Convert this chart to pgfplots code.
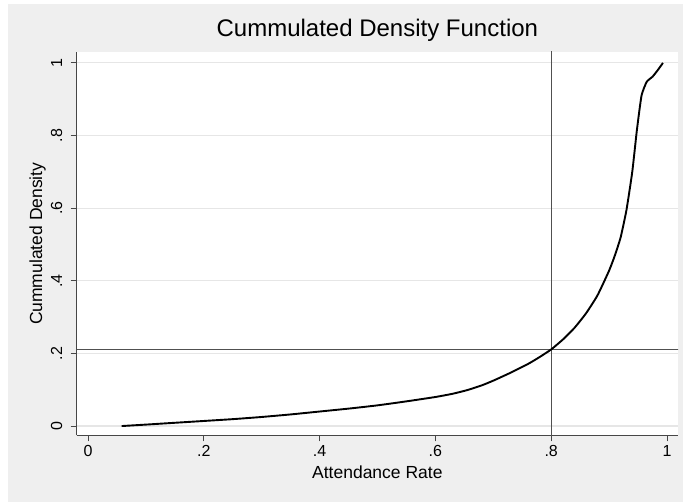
\documentclass[border=0pt]{standalone}
\usepackage{fontspec}
\setmainfont{Liberation Sans}
\usepackage{pgfplots}
\pgfplotsset{compat=1.18}
\definecolor{bggray}{RGB}{239,239,239}
\definecolor{gridgray}{RGB}{230,230,230}
\definecolor{axgray}{RGB}{70,70,70}
\definecolor{refgray}{RGB}{80,80,80}
\begin{document}
\begin{tikzpicture}
% page and graph region
\fill[white] (0pt,0pt) rectangle (683pt,502pt);
\fill[bggray] (8pt,0pt) rectangle (683pt,498pt);
\begin{axis}[
  at={(76.7pt,66.5pt)}, anchor=south west,
  scale only axis, width=601.3pt, height=383.5pt,
  xmin=-0.0195, xmax=1.019, ymin=-0.026, ymax=1.030,
  axis background/.style={fill=white},
  axis lines*=left,
  axis line style={axgray, line width=1.1pt},
  tick align=outside,
  major tick length=6pt,
  tick style={axgray, line width=0.9pt},
  xtick={0,0.2,0.4,0.6,0.8,1},
  xticklabels={0,.2,.4,.6,.8,1},
  ytick={0,0.2,0.4,0.6,0.8,1},
  yticklabels={0,.2,.4,.6,.8,1},
  /pgf/number format/assume math mode=true,
  ticklabel style={font=\fontsize{16}{19}\selectfont},
  xticklabel style={anchor=north, inner sep=0pt, outer sep=3.5pt},
  yticklabel style={rotate=90, anchor=south, inner sep=0pt, outer sep=8.5pt},
  ymajorgrids, grid style={gridgray, line width=1.2pt},
  title={Cummulated Density Function},
  title style={font=\fontsize{24}{28}\selectfont, at={(axis description cs:0.5,1)}, anchor=base, inner sep=0pt, yshift=9pt},
  xlabel={Attendance Rate},
  xlabel style={font=\fontsize{17.5}{20}\selectfont, at={(axis description cs:0.5,-0.11343)}, anchor=base, inner sep=0pt},
  ylabel={Cummulated Density},
  ylabel style={font=\fontsize{17.5}{20}\selectfont, at={(axis description cs:-0.05737,0.5)}, anchor=base, inner sep=0pt},
  clip=true,
]
% reference lines
\addplot[refgray, line width=1.4pt] coordinates {(0.8,-0.1) (0.8,1.1)};
\addplot[refgray, line width=1.4pt] coordinates {(-0.1,0.21) (1.1,0.21)};
% empirical cumulative distribution
\addplot[black, line width=1.9pt, smooth, tension=0.3] coordinates {
(0.058,0.000)
(0.10,0.004)
(0.15,0.009)
(0.20,0.014)
(0.25,0.019)
(0.30,0.025)
(0.35,0.032)
(0.40,0.040)
(0.45,0.048)
(0.50,0.057)
(0.55,0.068)
(0.60,0.080)
(0.63,0.089)
(0.655,0.099)
(0.68,0.112)
(0.70,0.125)
(0.73,0.147)
(0.76,0.171)
(0.78,0.190)
(0.80,0.211)
(0.82,0.238)
(0.84,0.270)
(0.86,0.310)
(0.88,0.360)
(0.90,0.428)
(0.91,0.470)
(0.92,0.520)
(0.93,0.595)
(0.94,0.700)
(0.948,0.815)
(0.956,0.910)
(0.965,0.948)
(0.975,0.962)
(0.984,0.980)
(0.993,1.000)
};
\end{axis}
\end{tikzpicture}
\end{document}
